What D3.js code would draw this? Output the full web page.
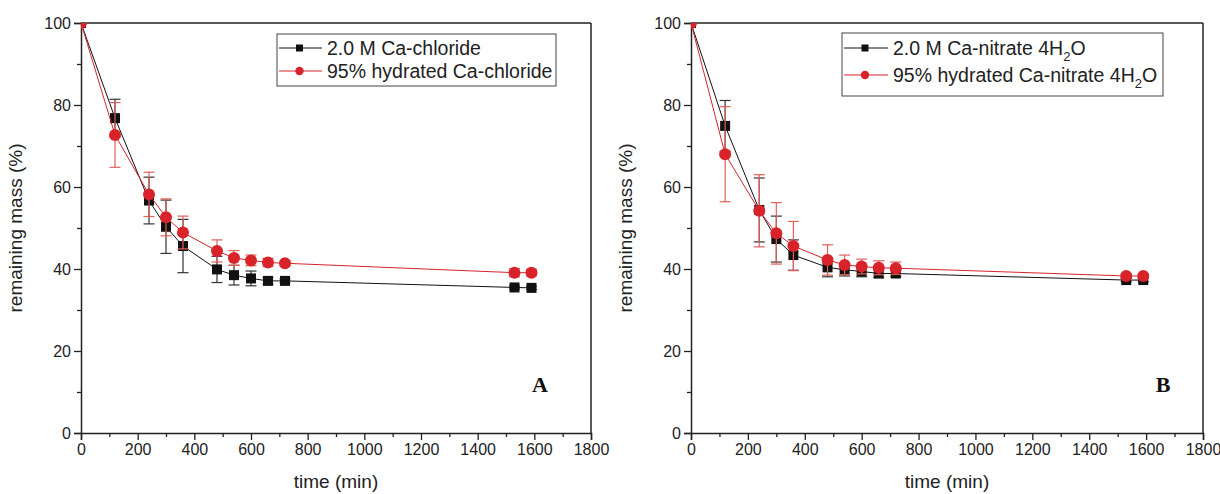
<!DOCTYPE html>
<html><head><meta charset="utf-8">
<script src="https://cdn.jsdelivr.net/npm/d3@7"></script>
<style>body{margin:0;background:#fff}svg{display:block}</style>
</head><body><svg id="c" width="1220" height="494"></svg>
<script>
const times = [0,120,240,300,360,480,540,600,660,720,1530,1590];
const xTicks = [0,200,400,600,800,1000,1200,1400,1600,1800];
const yTicks = [0,20,40,60,80,100];

const aBlack = [100,76.8,56.7,50.3,45.6,39.9,38.5,37.7,37.1,37.1,35.5,35.4];
const aBlackErr = [0,4.6,5.7,6.5,6.5,3.2,2.4,1.8,0.8,0.5,0.4,0.4];
const aRed = [100,72.7,58.2,52.6,48.9,44.4,42.7,42.1,41.6,41.4,39.1,39.1];
const aRedErr = [0,7.9,5.4,4.5,4.0,2.7,1.8,1.3,1.0,0.6,1.0,0.8];

const bBlack = [100,74.9,54.4,47.3,43.4,40.4,39.8,39.4,38.9,38.9,37.3,37.3];
const bBlackErr = [0,6.2,7.8,5.6,3.7,2.3,1.5,1.3,1.0,0.8,0.4,0.4];
const bRed = [100,68.0,54.2,48.7,45.6,42.2,41.0,40.6,40.3,40.2,38.3,38.3];
const bRedErr = [0,11.6,8.8,7.5,6.0,3.7,2.4,1.8,1.7,1.5,0.5,0.5];

const legendA = ["2.0 M Ca-chloride","95% hydrated Ca-chloride"];
const legendB = [["2.0 M Ca-nitrate 4H","2","O"],["95% hydrated Ca-nitrate 4H","2","O"]];
const xTitle = "time (min)";
const yTitle = "remaining mass (%)";

const svg = d3.select("#c");
const FONT = "'Liberation Sans', Arial, sans-serif";
const BLACK = "#111", RED = "#d9232b", REDERR = "#e0605a";

function panel(id, left, width, black, blackErr, red, redErr, legend, legendBox, letter, letterDx){
  const x = d3.scaleLinear().domain([0,1800]).range([left, left+width]);
  const y = d3.scaleLinear().domain([0,100]).range([433, 23]);
  const g = svg.append("g");
  const clipId = "clip"+id;
  svg.append("clipPath").attr("id", clipId).append("rect")
    .attr("x", x(0)).attr("y", y(100)).attr("width", x(1800)-x(0)).attr("height", y(0)-y(100));

  g.append("g").attr("transform", `translate(0,${y(0)})`)
    .call(d3.axisBottom(x).tickValues(xTicks).tickSize(7).tickPadding(4).tickFormat(d3.format("d")));
  g.append("g").attr("transform", `translate(${x(0)},0)`)
    .call(d3.axisLeft(y).tickValues(yTicks).tickSize(7).tickPadding(3));
  g.append("g").attr("transform", `translate(0,${y(0)})`)
    .call(d3.axisBottom(x).tickValues(d3.range(100,1800,200)).tickSize(4).tickFormat(""))
    .call(s=>s.select(".domain").remove());
  g.append("g").attr("transform", `translate(${x(0)},0)`)
    .call(d3.axisLeft(y).tickValues(d3.range(10,100,20)).tickSize(4).tickFormat(""))
    .call(s=>s.select(".domain").remove());
  g.selectAll(".tick line").attr("stroke", "#222").attr("stroke-width", 1.3);
  g.selectAll(".domain").attr("stroke", "#222").attr("stroke-width", 1.5);
  g.selectAll(".tick text").attr("font-family", FONT).attr("font-size", 16).attr("fill", "#222");
  g.append("line").attr("x1", x(0)).attr("x2", x(1800)).attr("y1", y(100)).attr("y2", y(100)).attr("stroke", "#222").attr("stroke-width", 1.5);
  g.append("line").attr("x1", x(1800)).attr("x2", x(1800)).attr("y1", y(100)).attr("y2", y(0)).attr("stroke", "#222").attr("stroke-width", 1.5);

  g.append("text").attr("x", (x(0)+x(1800))/2).attr("y", 488).attr("text-anchor","middle")
    .attr("font-family", FONT).attr("font-size", 19).attr("fill","#222").text(xTitle);
  g.append("text").attr("transform", `translate(${left-59},${(y(0)+y(100))/2}) rotate(-90)`)
    .attr("text-anchor","middle").attr("font-family", FONT).attr("font-size", 19).attr("fill","#222").text(yTitle);
  g.append("text").attr("x", x(1800)-letterDx).attr("y", 392).attr("text-anchor","middle")
    .attr("font-family", "'Liberation Serif', 'Times New Roman', serif").attr("font-weight","bold")
    .attr("font-size", 22).attr("fill","#111").text(letter);

  const plot = g.append("g").attr("clip-path", `url(#${clipId})`);
  const line = d3.line().x((d,i)=>x(times[i])).y(d=>y(d));

  function series(vals, errs, color, errColor, shape){
    const sg = plot.append("g");
    sg.append("path").datum(vals).attr("d", line).attr("fill","none").attr("stroke", color).attr("stroke-width", 1);
    vals.forEach((v,i)=>{
      const e = errs[i];
      if (e > 0){
        const cx = x(times[i]);
        sg.append("line").attr("x1",cx).attr("x2",cx).attr("y1",y(v+e)).attr("y2",y(v-e)).attr("stroke",errColor).attr("stroke-width",1.2);
        [v+e, v-e].forEach(w=>sg.append("line").attr("x1",cx-5.5).attr("x2",cx+5.5).attr("y1",y(w)).attr("y2",y(w)).attr("stroke",errColor).attr("stroke-width",1.2));
      }
    });
    vals.forEach((v,i)=>{
      if (shape==="sq") sg.append("rect").attr("x", x(times[i])-5).attr("y", y(v)-5).attr("width",10).attr("height",10).attr("fill", color);
      else sg.append("circle").attr("cx", x(times[i])).attr("cy", y(v)).attr("r", 6).attr("fill", color);
    });
  }
  series(black, blackErr, BLACK, "#333", "sq");
  series(red, redErr, RED, REDERR, "ci");

  const lb = legendBox;
  g.append("rect").attr("x", lb.x).attr("y", lb.y).attr("width", lb.w).attr("height", lb.h)
    .attr("fill","#fff").attr("stroke","#444").attr("stroke-width",1);
  legend.forEach((t,i)=>{
    const cy = lb.y + lb.r0 + i*lb.dy;
    const col = i===0 ? BLACK : RED;
    g.append("line").attr("x1", lb.x+2).attr("x2", lb.x+lb.lw).attr("y1", cy).attr("y2", cy).attr("stroke", col).attr("stroke-width",1);
    if (i===0) g.append("rect").attr("x", lb.x+lb.lw/2-3.5).attr("y", cy-3.5).attr("width",7).attr("height",7).attr("fill",BLACK);
    else g.append("circle").attr("cx", lb.x+lb.lw/2).attr("cy", cy).attr("r",4.2).attr("fill",RED);
    const tx = g.append("text").attr("x", lb.x+lb.lw+5).attr("y", cy+6.8).attr("font-family", FONT).attr("font-size", 19.5).attr("fill","#222");
    if (Array.isArray(t)){
      tx.append("tspan").text(t[0]);
      tx.append("tspan").attr("font-size", 13).attr("dy", 6).text(t[1]);
      tx.append("tspan").attr("dy", -6).text(t[2]);
    } else tx.text(t);
  });
}

panel("A", 81, 510, aBlack, aBlackErr, aRed, aRedErr, legendA, {x:277,y:34,w:279,h:52,r0:14,dy:23,lw:45}, "A", 51);
panel("B", 691, 512, bBlack, bBlackErr, bRed, bRedErr, legendB, {x:842,y:33,w:321,h:63,r0:15,dy:27,lw:46}, "B", 40);
</script>
</body></html>
